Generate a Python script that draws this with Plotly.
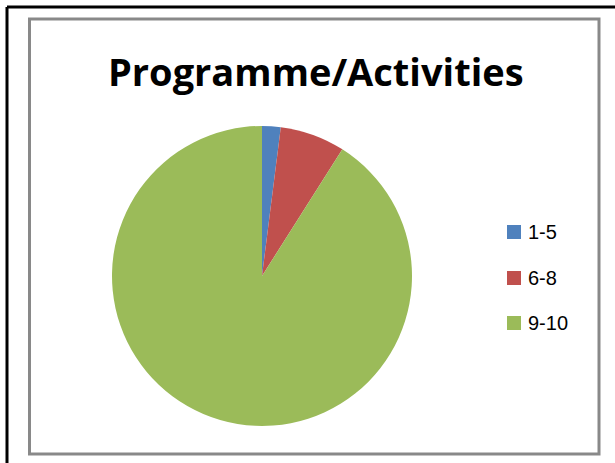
import plotly.graph_objects as go

# Score bands and their share of responses
labels = ["1-5", "6-8", "9-10"]
values = [2, 7, 91]
colors = ["#4F81BD", "#C0504D", "#9BBB59"]
title_text = "Programme/Activities"

W, H = 615, 463

fig = go.Figure(
    go.Pie(
        labels=labels,
        values=values,
        marker=dict(colors=colors, line=dict(width=0)),
        sort=False,
        direction="clockwise",
        rotation=0,
        textinfo="none",
        hoverinfo="label+value+percent",
        showlegend=False,
        domain=dict(x=[112 / W, 412 / W], y=[(H - 426) / H, (H - 126) / H]),
    )
)

shapes = [
    # outer dark frame (top and left edges)
    dict(type="line", xref="paper", yref="paper", x0=7 / W, x1=1.01, y0=1 - 7 / H, y1=1 - 7 / H,
         line=dict(color="#000000", width=3)),
    dict(type="line", xref="paper", yref="paper", x0=7 / W, x1=7 / W, y0=1 - 7 / H, y1=-0.01,
         line=dict(color="#000000", width=3)),
    # chart area border
    dict(type="rect", xref="paper", yref="paper", x0=29.5 / W, x1=599 / W, y0=1 - 454 / H, y1=1 - 19 / H,
         line=dict(color="#898989", width=3), fillcolor="rgba(0,0,0,0)"),
]

annotations = [
    dict(text="<b>" + title_text + "</b>", xref="paper", yref="paper", x=316 / W, y=1 - 71 / H,
         xanchor="center", yanchor="middle", showarrow=False,
         font=dict(family="Open Sans", size=38, color="#000000")),
]

# legend: colour swatch plus label for each band
legend_y = [232, 278, 323]
for lab, col, ly in zip(labels, colors, legend_y):
    shapes.append(dict(type="rect", xref="paper", yref="paper",
                       x0=507 / W, x1=521 / W, y0=1 - (ly + 7) / H, y1=1 - (ly - 7) / H,
                       line=dict(width=0), fillcolor=col))
    annotations.append(dict(text=lab, xref="paper", yref="paper", x=526 / W, y=1 - ly / H,
                            xanchor="left", yanchor="middle", showarrow=False,
                            font=dict(family="Liberation Sans", size=20, color="#000000")))

fig.update_layout(
    width=W, height=H,
    margin=dict(l=0, r=0, t=0, b=0),
    paper_bgcolor="#FFFFFF",
    plot_bgcolor="#FFFFFF",
    shapes=shapes,
    annotations=annotations,
)

fig.write_html("out.html")
